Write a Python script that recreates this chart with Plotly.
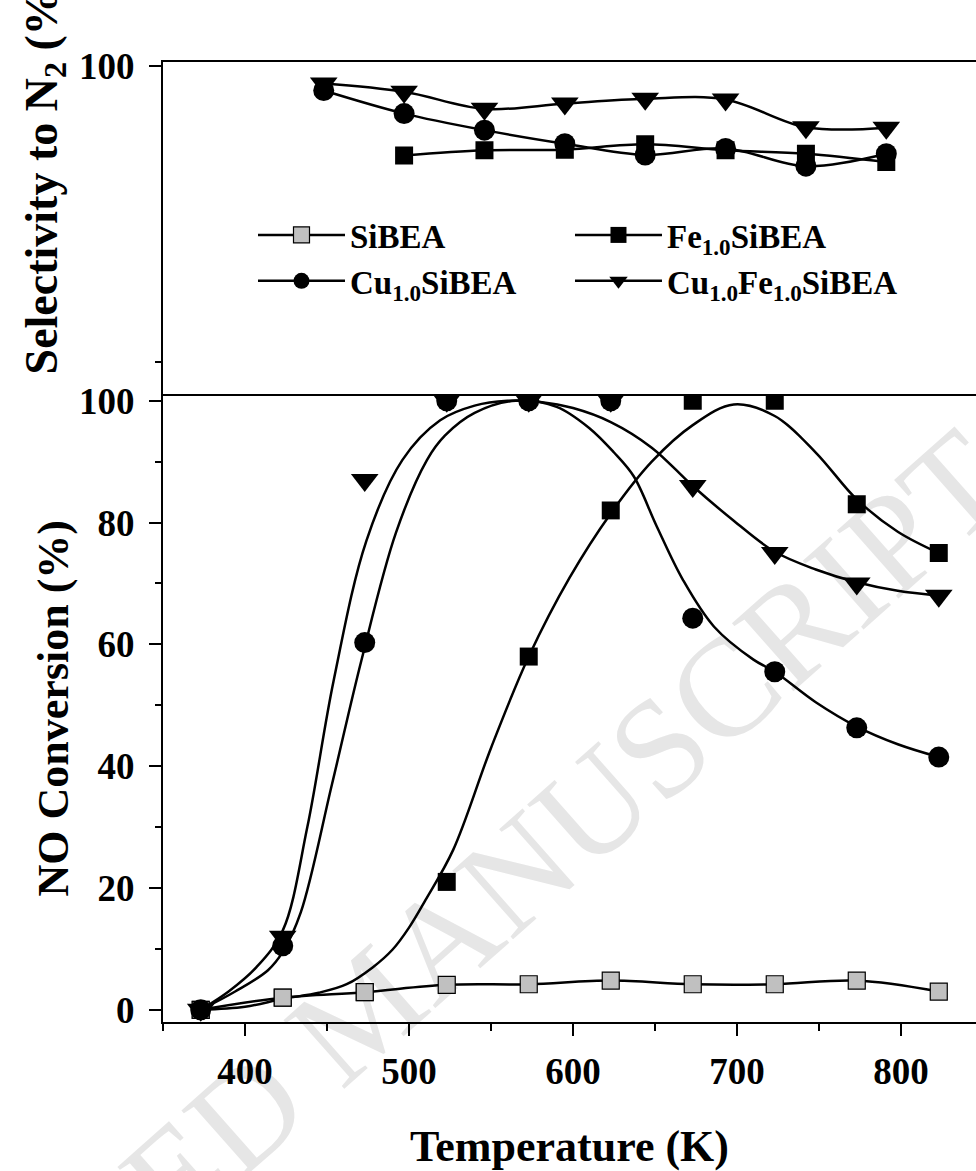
import math
import plotly.graph_objects as go

# ---------------- data ----------------
temps = [373, 423, 473, 523, 573, 623, 673, 723, 773, 823]
sibea_conv = [0, 2.0, 2.9, 4.1, 4.2, 4.8, 4.2, 4.2, 4.8, 3.0]
fe_conv = [0, 2.0, 2.9, 21, 58, 82, 100, 100, 83, 75]
cu_conv = [0, 10.5, 60.3, 100, 100, 100, 64.3, 55.5, 46.3, 41.5]
cufe_conv = [0, 12, 87, 100, 100, 100, 86, 75, 70, 68]

# fitted curves drawn through the conversion data
fe_fit_t = [373, 400, 423, 445, 462, 478, 490, 500, 510, 527, 550, 573, 598, 623, 648, 673, 698, 723, 748, 773, 798, 823]
fe_fit = [0, 0.5, 1.8, 2.8, 4.2, 7.0, 9.9, 13.5, 18, 26.3, 43, 58, 71, 81.5, 90, 96, 99.4, 97.5, 91.5, 83.8, 78.5, 75]
cu_fit_t = [373, 394, 414, 423, 434, 453, 471, 492, 511, 522, 540, 565, 590, 610, 625, 637, 651, 667, 686, 710, 723, 748, 773, 798, 823]
cu_fit = [0, 3, 6.5, 9.5, 16, 37, 57.4, 78.3, 90.3, 94.3, 98, 100, 99, 95.5, 91.5, 87.6, 79.4, 70.6, 62.9, 57.5, 55.5, 50.5, 46.5, 43.6, 41.5]
cufe_fit_t = [373, 390, 407, 423, 438, 454, 474, 496, 519, 540, 560, 580, 600, 623, 648, 673, 698, 723, 748, 773, 798, 823]
cufe_fit = [0, 3, 7, 13, 30, 54, 77, 90.3, 96.8, 99.2, 100, 99.8, 98.8, 96.5, 92.3, 86, 80.3, 75.2, 72.3, 70.2, 68.8, 68.0]

# selectivity to N2
sel_temps = [448, 497, 546, 595, 644, 693, 742, 791]
cufe_sel = [97.1, 95.7, 92.8, 93.7, 94.5, 94.4, 89.7, 89.6]
cu_sel = [95.9, 92.0, 89.2, 86.9, 85.0, 86.1, 83.1, 85.2]
fe_sel_temps = [497, 546, 595, 644, 693, 742, 791]
fe_sel = [84.9, 85.8, 85.9, 86.8, 85.8, 85.2, 83.8]

x_ticks = [400, 500, 600, 700, 800]
conv_ticks = [0, 20, 40, 60, 80, 100]

names = {
    "sibea": "SiBEA",
    "fe": "Fe<sub>1.0</sub>SiBEA",
    "cu": "Cu<sub>1.0</sub>SiBEA",
    "cufe": "Cu<sub>1.0</sub>Fe<sub>1.0</sub>SiBEA",
}

# ---------------- styles ----------------
FONT = "Liberation Serif"
BLACK = "#000000"
GRAY = "#c0c0c0"
LW = 2.5
sq = dict(symbol="square", size=18, color=BLACK)
gsq = dict(symbol="square", size=17, color=GRAY, line=dict(color=BLACK, width=1.2))
circ = dict(symbol="circle", size=21, color=BLACK)
tri = dict(symbol="triangle-down", size=24, color=BLACK)

fig = go.Figure()

# fitted curves (bottom panel)
for xs, ys in [(fe_fit_t, fe_fit), (cu_fit_t, cu_fit), (cufe_fit_t, cufe_fit)]:
    fig.add_trace(go.Scatter(x=xs, y=ys, mode="lines", line=dict(color=BLACK, width=LW, shape="spline"),
                             showlegend=False, hoverinfo="skip", xaxis="x", yaxis="y"))

# conversion points
fig.add_trace(go.Scatter(x=temps, y=fe_conv, mode="markers", marker=sq, showlegend=False, xaxis="x", yaxis="y"))
fig.add_trace(go.Scatter(x=temps, y=sibea_conv, mode="lines+markers", marker=gsq, name=names["sibea"],
                         line=dict(color=BLACK, width=LW, shape="spline"), legend="legend", legendrank=1,
                         xaxis="x", yaxis="y"))
fig.add_trace(go.Scatter(x=temps, y=cu_conv, mode="markers", marker=circ, showlegend=False, xaxis="x", yaxis="y"))
fig.add_trace(go.Scatter(x=temps, y=cufe_conv, mode="markers", marker=tri, showlegend=False, xaxis="x", yaxis="y"))

# selectivity (top panel)
fig.add_trace(go.Scatter(x=fe_sel_temps, y=fe_sel, mode="lines+markers", marker=sq, name=names["fe"],
                         line=dict(color=BLACK, width=LW, shape="spline"), legend="legend2", legendrank=1,
                         xaxis="x2", yaxis="y2"))
fig.add_trace(go.Scatter(x=sel_temps, y=cu_sel, mode="lines+markers", marker=circ, name=names["cu"],
                         line=dict(color=BLACK, width=LW, shape="spline"), legend="legend", legendrank=2,
                         xaxis="x2", yaxis="y2"))
fig.add_trace(go.Scatter(x=sel_temps, y=cufe_sel, mode="lines+markers", marker=tri, name=names["cufe"],
                         line=dict(color=BLACK, width=LW, shape="spline"), legend="legend2", legendrank=2,
                         xaxis="x2", yaxis="y2"))

W, H = 976, 1171
L, R, T, B = 163, 0, 62, 149
split = 0.6538
tickfont = dict(family=FONT, size=37, color=BLACK, weight="bold")
axis_common = dict(showline=True, linecolor=BLACK, linewidth=2, showgrid=False, zeroline=False)
legend_common = dict(orientation="v", yanchor="top", xanchor="left", itemwidth=87,
                     bgcolor="rgba(0,0,0,0)", borderwidth=0, traceorder="normal",
                     font=dict(family=FONT, size=33, color=BLACK, weight="bold"))

fig.update_layout(
    width=W, height=H,
    margin=dict(l=L, r=R, t=T, b=B),
    paper_bgcolor="white", plot_bgcolor="white",
    font=dict(family=FONT, color=BLACK),
    xaxis=dict(**axis_common, anchor="y", range=[350, 845.7], tickvals=x_ticks, ticks="outside",
               ticklen=12, tickwidth=2, tickcolor=BLACK, tickfont=tickfont, ticklabelstandoff=4,
               minor=dict(dtick=50, tick0=0, ticks="outside", ticklen=7, tickwidth=2, tickcolor=BLACK),
               title=dict(text="Temperature (K)", font=dict(family=FONT, size=44, weight="bold"), standoff=48)),
    yaxis=dict(**axis_common, anchor="x", domain=[0, split], range=[-2.0, 101.05], tickvals=conv_ticks,
               ticks="outside", ticklen=12, tickwidth=2, tickcolor=BLACK, tickfont=tickfont, ticklabelstandoff=7,
               minor=dict(dtick=10, tick0=0, ticks="outside", ticklen=6, tickwidth=2, tickcolor=BLACK)),
    xaxis2=dict(**axis_common, anchor="y2", matches="x", mirror=True, showticklabels=False, ticks=""),
    yaxis2=dict(**axis_common, anchor="x2", domain=[split, 1], range=[44.49, 100.73], tickvals=[100],
                ticks="outside", ticklen=12, tickwidth=2, tickcolor=BLACK, tickfont=tickfont, ticklabelstandoff=7,
                minor=dict(tickvals=[50], ticks="outside", ticklen=6, tickwidth=2, tickcolor=BLACK)),
    legend=dict(**legend_common, x=0.1107, y=0.849),
    legend2=dict(**legend_common, x=0.5006, y=0.849),
    showlegend=True,
)

# y axis titles
fig.add_annotation(text="NO Conversion (%)", xref="paper", yref="paper", x=-0.135, y=split / 2,
                   xanchor="center", yanchor="middle", textangle=-90, showarrow=False,
                   font=dict(family=FONT, size=44, color=BLACK, weight="bold"))
fig.add_annotation(text="Selectivity to N<sub>2</sub> (%)", xref="paper", yref="paper", x=-0.145, y=0.883,
                   xanchor="center", yanchor="middle", textangle=-90, showarrow=False,
                   font=dict(family=FONT, size=46, color=BLACK, weight="bold"))

# faint watermark under the data
pw, ph = W - L - R, H - T - B
cx, cy = 405, 1058
deg = 41.5
ang = math.radians(deg)
half = 300
x0p, y0p = cx - half * math.cos(ang), cy + half * math.sin(ang)
x1p, y1p = cx + half * math.cos(ang), cy - half * math.sin(ang)
to_px = lambda px: (px - L) / pw
to_py = lambda py: (H - B - py) / ph
fig.add_shape(type="line", xref="paper", yref="paper", x0=to_px(x0p), y0=to_py(y0p), x1=to_px(x1p), y1=to_py(y1p),
              line=dict(color="rgba(0,0,0,0)", width=0), layer="below",
              label=dict(text="ACCEPTED MANUSCRIPT", textposition="middle", textangle=-deg,
                         font=dict(family=FONT, size=140, color="#e6e6e6")))

fig.write_html("out.html")
